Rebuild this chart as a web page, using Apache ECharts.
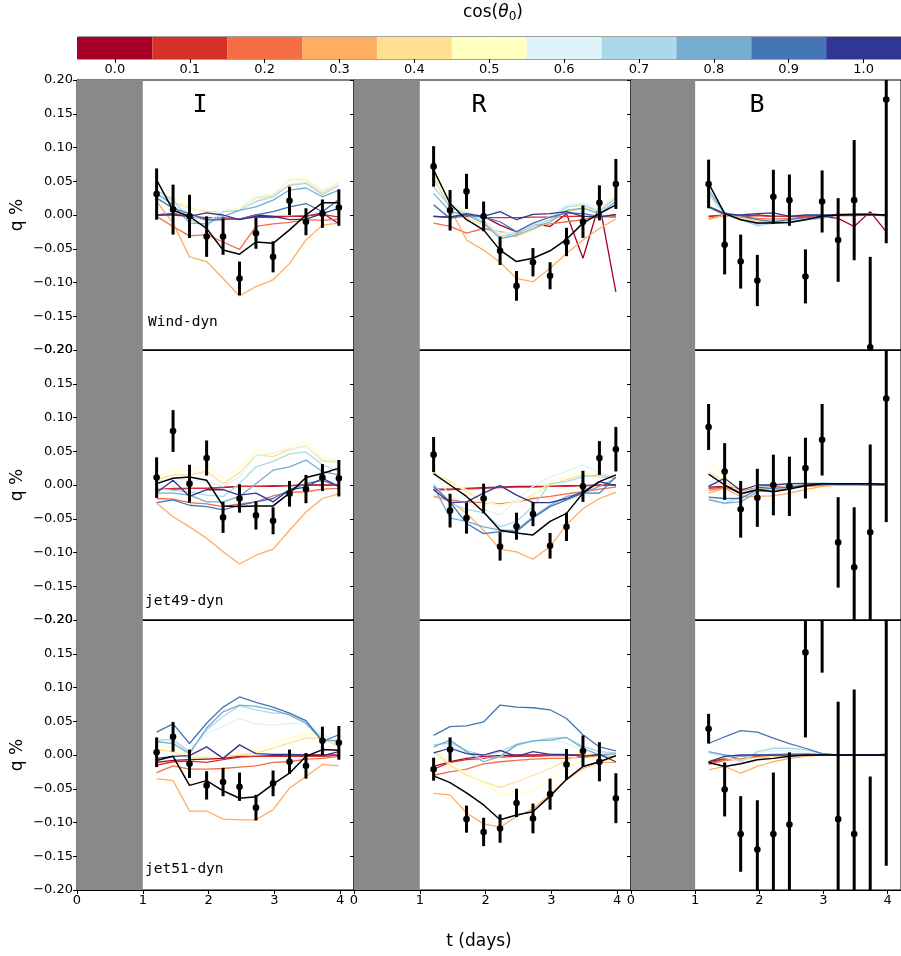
<!DOCTYPE html>
<html><head><meta charset="utf-8">
<script src="https://cdn.jsdelivr.net/npm/echarts@6/dist/echarts.min.js"></script>
<style>html,body{margin:0;padding:0;background:#fff;}#c{width:901px;height:956px;}</style>
</head><body><div id="c"></div>
<script>
// ---------------- data ----------------
const tDays = [1.21,1.46,1.71,1.97,2.22,2.47,2.72,2.98,3.23,3.48,3.73,3.98];
const cosValues = [0.0,0.1,0.2,0.3,0.4,0.5,0.6,0.7,0.8,0.9,1.0];
const cosColors = ['#a50026','#d73027','#f46d43','#fdae61','#fee090','#ffffbf','#e0f3f8','#abd9e9','#74add1','#4575b4','#313695'];
const cbTickLabels = ['0.0','0.1','0.2','0.3','0.4','0.5','0.6','0.7','0.8','0.9','1.0'];
const xTickValues = [0,1,2,3,4];
const shadeRange = [0,1];
const bandNames = ['I','R','B'];
const modelNames = ['Wind-dyn','jet49-dyn','jet51-dyn'];

// Wind-dyn, I
const windI_obs = [0.031,0.008,-0.002,-0.032,-0.032,-0.094,-0.027,-0.062,0.021,-0.010,0.002,0.011];
const windI_err = [0.038,0.037,0.032,0.030,0.027,0.025,0.023,0.023,0.021,0.020,0.021,0.027];
const windI_fit = [0.052,0.007,-0.002,-0.020,-0.052,-0.058,-0.040,-0.042,-0.022,0.000,0.018,0.018];
const windI_models = [ // cos = 0.0 ... 1.0
 [0.000,0.002,-0.002,-0.007,-0.006,-0.006,0.000,-0.002,-0.002,-0.002,0.003,-0.013],
 [0.000,0.002,-0.002,-0.004,-0.004,-0.006,-0.003,-0.004,-0.002,-0.001,0.001,-0.003],
 [-0.002,-0.017,-0.031,-0.029,-0.040,-0.051,-0.017,-0.013,-0.011,-0.007,-0.008,-0.006],
 [0.020,-0.012,-0.062,-0.069,-0.094,-0.120,-0.106,-0.096,-0.072,-0.037,-0.015,-0.012],
 [0.030,0.020,0.010,0.005,0.005,0.010,0.025,0.028,0.045,0.048,0.032,0.048],
 [0.037,0.025,0.012,0.002,0.005,0.010,0.032,0.030,0.054,0.054,0.037,0.052],
 [0.035,0.022,0.000,-0.010,0.005,0.007,0.027,0.030,0.052,0.052,0.035,0.047],
 [0.037,0.022,-0.007,-0.017,0.005,0.007,0.020,0.027,0.044,0.047,0.030,0.044],
 [0.032,0.015,-0.012,-0.013,-0.002,0.007,0.012,0.022,0.037,0.040,0.027,0.037],
 [0.025,0.010,0.002,-0.007,-0.007,-0.006,0.000,0.005,0.012,0.017,0.005,0.023],
 [0.000,0.000,-0.002,0.003,0.000,-0.007,-0.002,-0.002,-0.007,-0.006,0.002,0.010]
];
// Wind-dyn, R
const windR_obs = [0.072,0.007,0.035,-0.002,-0.053,-0.105,-0.070,-0.090,-0.040,-0.010,0.018,0.046];
const windR_err = [0.030,0.030,0.026,0.022,0.021,0.022,0.021,0.020,0.021,0.024,0.026,0.037];
const windR_fit = [0.067,0.017,-0.007,-0.022,-0.052,-0.069,-0.064,-0.053,-0.036,-0.012,0.002,0.015];
const windR_models = [
 [-0.002,-0.003,0.000,-0.002,-0.015,-0.025,-0.013,-0.017,0.002,-0.064,0.017,-0.114],
 [-0.002,-0.003,-0.002,-0.004,-0.004,-0.004,-0.003,-0.003,-0.002,-0.002,-0.002,-0.003],
 [-0.012,-0.017,-0.027,-0.020,-0.025,-0.028,-0.015,-0.013,-0.010,-0.007,-0.002,-0.002],
 [0.055,0.010,-0.037,-0.052,-0.070,-0.094,-0.099,-0.079,-0.057,-0.037,-0.020,-0.006],
 [0.062,0.015,-0.005,-0.015,-0.030,-0.032,-0.022,-0.010,0.005,0.010,0.008,0.025],
 [0.059,0.015,0.007,-0.010,-0.030,-0.027,-0.012,-0.003,0.012,0.013,0.008,0.033],
 [0.052,0.017,0.005,-0.007,-0.027,-0.025,-0.015,-0.002,0.015,0.018,0.010,0.027],
 [0.042,0.012,0.002,-0.010,-0.032,-0.027,-0.017,-0.007,0.012,0.015,0.005,0.025],
 [0.032,0.005,0.000,-0.012,-0.035,-0.030,-0.020,-0.010,0.007,0.010,0.002,0.020],
 [0.015,-0.005,0.000,-0.003,-0.010,-0.025,-0.012,-0.003,0.003,0.002,-0.002,0.000],
 [-0.002,-0.003,0.002,-0.002,0.005,-0.007,0.001,0.002,0.005,-0.002,-0.003,0.001]
];
// Wind-dyn, B
const windB_obs = [0.046,-0.044,-0.069,-0.097,0.027,0.022,-0.091,0.020,-0.037,0.022,-0.196,0.171];
const windB_err = [0.036,0.044,0.040,0.038,0.040,0.038,0.040,0.046,0.062,0.089,0.134,0.213];
const windB_fit = [0.047,0.002,-0.007,-0.012,-0.012,-0.011,-0.007,-0.002,0.000,0.001,0.001,0.000];
const windB_models = [
 [-0.002,0.000,-0.002,0.000,-0.002,-0.002,-0.002,-0.002,-0.005,-0.017,0.005,-0.025],
 [-0.002,-0.001,-0.002,-0.001,-0.002,-0.002,-0.002,-0.001,-0.001,-0.001,0.000,-0.001],
 [-0.005,0.000,-0.003,-0.005,-0.006,-0.005,-0.003,-0.002,0.000,0.000,0.000,-0.001],
 [-0.007,0.000,-0.002,-0.010,-0.012,-0.010,-0.005,-0.002,0.000,0.000,0.000,-0.001],
 [0.010,0.000,-0.005,-0.010,-0.012,-0.010,-0.006,-0.002,0.000,0.001,0.001,0.000],
 [0.025,0.001,-0.006,-0.012,-0.013,-0.010,-0.006,-0.002,0.001,0.002,0.001,0.000],
 [0.030,0.002,-0.007,-0.015,-0.013,-0.010,-0.006,-0.002,0.002,0.002,0.001,0.000],
 [0.032,0.002,-0.007,-0.016,-0.012,-0.010,-0.006,-0.002,0.002,0.002,0.001,0.000],
 [0.037,0.003,-0.006,-0.013,-0.011,-0.011,-0.007,-0.005,0.001,0.000,0.001,0.000],
 [0.013,0.003,-0.001,-0.007,-0.010,-0.007,-0.004,-0.002,0.000,0.000,0.000,0.000],
 [0.012,0.001,0.000,0.002,0.003,-0.002,0.000,0.000,0.000,0.000,0.000,0.000]
];
// jet49-dyn, I
const jet49I_obs = [0.011,0.080,0.002,0.040,-0.048,-0.020,-0.045,-0.053,-0.013,-0.006,0.011,0.010];
const jet49I_err = [0.030,0.031,0.028,0.026,0.023,0.021,0.021,0.020,0.019,0.021,0.020,0.027];
const jet49I_fit = [0.002,0.010,0.012,0.007,-0.031,-0.032,-0.031,-0.031,-0.012,0.011,0.017,0.025];
const jet49I_models = [
 [-0.006,-0.006,-0.005,-0.005,-0.004,-0.002,-0.002,-0.002,-0.001,0.000,0.000,0.000],
 [-0.007,-0.005,-0.005,-0.005,-0.003,-0.002,-0.002,-0.001,-0.001,0.000,0.000,0.000],
 [-0.020,-0.021,-0.026,-0.028,-0.032,-0.028,-0.025,-0.016,-0.011,-0.010,-0.006,-0.005],
 [-0.027,-0.047,-0.062,-0.079,-0.099,-0.117,-0.104,-0.095,-0.067,-0.040,-0.020,-0.013],
 [0.008,0.015,0.015,0.020,0.002,0.018,0.045,0.042,0.052,0.058,0.035,0.034],
 [0.012,0.022,0.022,0.030,0.010,0.025,0.053,0.046,0.058,0.063,0.040,0.038],
 [0.005,0.010,0.007,0.005,-0.002,0.012,0.044,0.047,0.054,0.058,0.037,0.035],
 [-0.005,-0.008,-0.010,-0.015,-0.017,0.002,0.027,0.035,0.046,0.049,0.030,0.020],
 [-0.012,-0.012,-0.015,-0.025,-0.025,-0.017,0.002,0.022,0.027,0.037,0.020,0.015],
 [-0.026,-0.022,-0.030,-0.032,-0.037,-0.030,-0.025,-0.020,-0.007,0.002,0.007,-0.002],
 [-0.011,0.007,-0.017,-0.007,-0.007,-0.015,-0.012,-0.025,-0.007,-0.003,0.010,-0.002]
];
// jet49-dyn, R
const jet49R_obs = [0.045,-0.038,-0.049,-0.020,-0.091,-0.061,-0.043,-0.090,-0.062,-0.002,0.040,0.053];
const jet49R_err = [0.026,0.025,0.023,0.022,0.021,0.020,0.018,0.019,0.021,0.023,0.025,0.033];
const jet49R_fit = [0.017,0.000,-0.017,-0.040,-0.067,-0.071,-0.074,-0.054,-0.042,-0.012,0.005,0.015];
const jet49R_models = [
 [-0.006,-0.006,-0.005,-0.004,-0.003,-0.002,-0.002,-0.002,-0.001,-0.001,0.000,0.000],
 [-0.007,-0.007,-0.006,-0.005,-0.004,-0.003,-0.003,-0.002,-0.002,-0.001,-0.001,0.000],
 [-0.017,-0.022,-0.025,-0.026,-0.028,-0.025,-0.020,-0.017,-0.013,-0.010,-0.006,-0.003],
 [-0.017,-0.024,-0.042,-0.067,-0.095,-0.099,-0.110,-0.091,-0.059,-0.035,-0.020,-0.011],
 [0.020,0.005,-0.010,-0.025,-0.030,-0.025,-0.015,0.000,0.008,0.015,0.012,0.010],
 [0.023,0.002,-0.007,-0.025,-0.030,-0.025,-0.017,0.005,0.012,0.020,0.015,0.012],
 [0.020,-0.017,-0.027,-0.037,-0.044,-0.022,-0.002,0.012,0.020,0.030,0.018,0.013],
 [0.002,-0.027,-0.036,-0.041,-0.062,-0.054,-0.032,0.002,0.005,0.012,0.015,0.010],
 [-0.002,-0.049,-0.054,-0.062,-0.067,-0.067,-0.047,-0.030,-0.017,-0.012,-0.002,0.010],
 [-0.002,-0.025,-0.057,-0.072,-0.069,-0.069,-0.049,-0.032,-0.022,-0.012,-0.012,0.012],
 [-0.007,-0.026,-0.025,-0.012,-0.001,-0.015,-0.026,-0.026,-0.020,-0.010,0.005,-0.001]
];
// jet49-dyn, B
const jet49B_obs = [0.086,0.020,-0.036,-0.019,0.000,-0.002,0.025,0.067,-0.085,-0.122,-0.070,0.128];
const jet49B_err = [0.034,0.042,0.042,0.043,0.045,0.044,0.045,0.053,0.067,0.089,0.130,0.183];
const jet49B_fit = [0.016,0.000,-0.013,-0.007,-0.010,-0.006,-0.001,0.002,0.002,0.002,0.002,0.001];
const jet49B_models = [
 [-0.003,-0.002,-0.006,-0.003,-0.002,-0.001,0.000,0.000,0.000,0.000,0.000,0.000],
 [-0.005,-0.003,-0.008,-0.004,-0.003,-0.002,-0.001,0.000,0.000,0.000,0.000,0.000],
 [-0.008,-0.004,-0.010,-0.006,-0.004,-0.003,-0.002,-0.001,0.000,0.000,0.000,0.000],
 [-0.012,-0.005,-0.017,-0.017,-0.016,-0.012,-0.007,-0.002,0.000,0.000,0.000,0.000],
 [0.020,0.005,-0.010,-0.006,-0.004,-0.002,0.000,0.001,0.001,0.001,0.000,0.000],
 [0.036,0.010,-0.005,-0.002,-0.001,0.000,0.001,0.002,0.002,0.001,0.000,0.000],
 [0.005,-0.002,-0.008,-0.002,0.000,0.001,0.002,0.003,0.002,0.001,0.000,0.000],
 [-0.020,-0.028,-0.017,-0.002,0.000,0.002,0.003,0.003,0.002,0.001,0.000,0.000],
 [-0.022,-0.027,-0.025,-0.010,-0.008,-0.005,-0.001,0.001,0.001,0.001,0.000,0.000],
 [-0.018,-0.020,-0.020,-0.007,-0.005,-0.003,0.000,0.001,0.001,0.001,0.000,0.000],
 [-0.002,0.010,-0.008,0.000,0.000,0.002,0.002,0.002,0.002,0.002,0.002,0.001]
];
// jet51-dyn, I
const jet51I_obs = [0.004,0.027,-0.013,-0.045,-0.040,-0.047,-0.078,-0.042,-0.010,-0.016,0.021,0.018];
const jet51I_err = [0.022,0.022,0.021,0.021,0.021,0.021,0.019,0.019,0.018,0.019,0.021,0.025];
const jet51I_fit = [-0.008,-0.002,-0.045,-0.038,-0.053,-0.064,-0.062,-0.043,-0.027,-0.002,0.008,0.007];
const jet51I_models = [
 [-0.011,-0.008,-0.007,-0.006,-0.005,-0.002,-0.002,-0.001,0.000,0.000,0.000,0.000],
 [-0.015,-0.010,-0.009,-0.011,-0.007,-0.003,-0.002,-0.002,-0.002,-0.002,-0.002,-0.001],
 [-0.026,-0.016,-0.021,-0.021,-0.020,-0.018,-0.016,-0.011,-0.010,-0.006,-0.005,-0.002],
 [-0.035,-0.038,-0.083,-0.083,-0.095,-0.096,-0.096,-0.081,-0.049,-0.032,-0.014,-0.016],
 [0.008,0.005,-0.005,-0.003,-0.002,0.000,0.003,0.010,0.018,0.025,0.025,0.012],
 [0.015,0.010,-0.002,-0.002,-0.002,0.005,0.007,0.017,0.025,0.030,0.032,0.017],
 [0.025,0.020,0.005,0.032,0.042,0.054,0.046,0.044,0.047,0.046,0.030,0.017],
 [0.022,0.023,0.005,0.037,0.057,0.073,0.067,0.062,0.062,0.049,0.025,0.018],
 [0.020,0.017,0.002,0.040,0.064,0.074,0.072,0.067,0.059,0.047,0.021,0.022],
 [0.034,0.046,0.017,0.047,0.071,0.086,0.078,0.071,0.062,0.051,0.020,0.030],
 [-0.005,-0.002,-0.001,0.012,-0.005,0.015,0.002,0.001,0.001,0.000,-0.001,0.005]
];
// jet51-dyn, R
const jet51R_obs = [-0.021,0.008,-0.095,-0.114,-0.109,-0.071,-0.094,-0.058,-0.014,0.006,-0.010,-0.064];
const jet51R_err = [0.017,0.018,0.020,0.021,0.021,0.021,0.022,0.023,0.023,0.023,0.029,0.037];
const jet51R_fit = [-0.031,-0.041,-0.056,-0.074,-0.096,-0.089,-0.084,-0.061,-0.036,-0.017,-0.010,-0.001];
const jet51R_models = [
 [-0.017,-0.010,-0.005,-0.002,-0.001,0.000,0.000,0.000,0.000,0.000,0.000,0.000],
 [-0.021,-0.011,-0.007,-0.005,-0.003,-0.002,-0.002,-0.001,-0.001,0.000,0.000,0.000],
 [-0.030,-0.025,-0.021,-0.013,-0.010,-0.008,-0.006,-0.005,-0.005,-0.003,-0.002,-0.002],
 [-0.057,-0.059,-0.086,-0.102,-0.107,-0.091,-0.080,-0.059,-0.037,-0.020,-0.011,-0.011],
 [0.005,-0.015,-0.030,-0.040,-0.048,-0.040,-0.030,-0.020,-0.008,0.000,0.002,0.001],
 [0.012,-0.012,-0.027,-0.042,-0.058,-0.058,-0.053,-0.037,-0.020,-0.007,-0.002,-0.001],
 [0.015,0.015,0.002,-0.007,-0.003,0.013,0.020,0.023,0.017,0.007,0.002,-0.001],
 [0.015,0.018,0.007,-0.001,0.005,0.016,0.021,0.025,0.026,0.013,0.005,0.003],
 [0.012,0.022,0.005,-0.010,-0.002,0.015,0.021,0.022,0.026,0.010,0.000,0.002],
 [0.029,0.042,0.043,0.049,0.074,0.071,0.070,0.067,0.054,0.030,0.012,0.006],
 [0.003,0.010,0.002,0.000,0.007,-0.002,0.005,0.001,0.001,-0.002,0.001,-0.010]
];
// jet51-dyn, B
const jet51B_obs = [0.039,-0.051,-0.117,-0.140,-0.117,-0.103,0.152,0.270,-0.095,-0.117,-0.260,0.300];
const jet51B_err = [0.022,0.040,0.056,0.073,0.091,0.107,0.126,0.148,0.174,0.214,0.228,0.464];
const jet51B_fit = [-0.011,-0.017,-0.013,-0.007,-0.005,-0.002,0.000,0.000,0.000,0.000,0.000,0.000];
const jet51B_models = [
 [-0.010,-0.005,-0.003,-0.002,-0.001,0.000,0.000,0.000,0.000,0.000,0.000,0.001],
 [-0.012,-0.006,-0.004,-0.002,-0.001,0.000,0.000,0.000,0.000,0.000,0.000,0.001],
 [-0.014,-0.008,-0.006,-0.003,-0.002,-0.001,0.000,0.000,0.000,0.000,0.000,0.000],
 [-0.022,-0.017,-0.027,-0.017,-0.010,-0.005,-0.002,0.000,0.000,0.000,0.000,0.000],
 [-0.008,-0.004,-0.008,-0.004,-0.002,-0.001,0.000,0.000,0.000,0.000,0.000,0.000],
 [0.005,0.000,-0.004,0.000,0.001,0.001,0.001,0.000,0.000,0.000,0.000,0.000],
 [0.003,-0.002,-0.010,0.003,0.006,0.006,0.004,0.001,0.000,0.000,0.000,0.000],
 [0.004,0.000,-0.010,0.005,0.010,0.010,0.008,0.002,0.000,0.000,0.000,0.000],
 [0.005,0.000,-0.002,0.000,0.001,0.002,0.002,0.001,0.000,0.000,0.000,0.000],
 [0.017,0.027,0.036,0.034,0.025,0.017,0.010,0.002,0.000,0.000,0.000,-0.001],
 [-0.010,-0.002,0.000,0.000,0.000,0.000,0.000,0.000,0.000,0.000,0.000,0.000]
];

// ---------------- layout ----------------
const panels = [
 [ {obs:windI_obs,err:windI_err,fit:windI_fit,models:windI_models},
   {obs:windR_obs,err:windR_err,fit:windR_fit,models:windR_models},
   {obs:windB_obs,err:windB_err,fit:windB_fit,models:windB_models} ],
 [ {obs:jet49I_obs,err:jet49I_err,fit:jet49I_fit,models:jet49I_models},
   {obs:jet49R_obs,err:jet49R_err,fit:jet49R_fit,models:jet49R_models},
   {obs:jet49B_obs,err:jet49B_err,fit:jet49B_fit,models:jet49B_models} ],
 [ {obs:jet51I_obs,err:jet51I_err,fit:jet51I_fit,models:jet51I_models},
   {obs:jet51R_obs,err:jet51R_err,fit:jet51R_fit,models:jet51R_models},
   {obs:jet51B_obs,err:jet51B_err,fit:jet51B_fit,models:jet51B_models} ]
];
const colLeft = [77, 354, 631];
const rowTop = [80, 350, 620];
const PW = 277, PH = 270;
const X_MIN = 0, X_MAX = 4.21, Y_MIN = -0.2, Y_MAX = 0.2;
const FONT = 'DejaVu Sans';
const MONO = 'DejaVu Sans Mono';

function fmtY(v){ if (Math.abs(v) < 1e-9) return '0.00'; return (v < 0 ? '\u2212' : '') + Math.abs(v).toFixed(2); }

const grid = [], xAxis = [], yAxis = [], series = [];
let gi = 0;
for (let r = 0; r < 3; r++) {
  for (let c = 0; c < 3; c++) {
    const P = panels[r][c];
    grid.push({left: colLeft[c], top: rowTop[r], width: PW, height: PH, show: true, borderColor: '#000', borderWidth: 1, backgroundColor: 'transparent'});
    xAxis.push({gridIndex: gi, type: 'value', min: X_MIN, max: X_MAX, interval: 1, position: 'bottom',
      axisLine: {show: true, onZero: false, lineStyle: {color: '#000', width: 1}},
      axisTick: {show: r === 2, length: 4, customValues: xTickValues, lineStyle: {color: '#000'}},
      axisLabel: {show: r === 2, customValues: xTickValues, fontFamily: FONT, fontSize: 13, color: '#000', margin: 4,
        formatter: v => (Math.abs(v - Math.round(v)) < 1e-6 ? String(Math.round(v)) : '')},
      splitLine: {show: false}});
    yAxis.push({gridIndex: gi, type: 'value', min: Y_MIN, max: Y_MAX, interval: 0.05, position: 'left',
      axisLine: {show: true, onZero: false, lineStyle: {color: '#000', width: 1}},
      axisTick: {show: true, length: 4, lineStyle: {color: '#000'}},
      axisLabel: {show: c === 0, fontFamily: FONT, fontSize: 13, color: '#000', margin: 4, formatter: fmtY},
      splitLine: {show: false}});
    // shaded region
    series.push({type: 'custom', xAxisIndex: gi, yAxisIndex: gi, z: 1, silent: true, clip: true,
      data: [[shadeRange[0], shadeRange[1]]],
      renderItem: (params, api) => {
        const p0 = api.coord([api.value(0), Y_MAX]);
        const p1 = api.coord([api.value(1), Y_MIN]);
        return {type: 'rect', shape: {x: p0[0], y: p0[1], width: p1[0] - p0[0], height: p1[1] - p0[1]}, style: {fill: '#898989'}};
      }});
    // model curves
    for (let k = 0; k < cosValues.length; k++) {
      series.push({type: 'line', xAxisIndex: gi, yAxisIndex: gi, z: 2, silent: true, symbol: 'none', showSymbol: false,
        data: tDays.map((t, i) => [t, P.models[k][i]]),
        lineStyle: {color: cosColors[k], width: 1.3}});
    }
    // best line
    series.push({type: 'line', xAxisIndex: gi, yAxisIndex: gi, z: 3, silent: true, symbol: 'none', showSymbol: false,
      data: tDays.map((t, i) => [t, P.fit[i]]),
      lineStyle: {color: '#000', width: 1.5}});
    // observations with error bars
    series.push({type: 'custom', xAxisIndex: gi, yAxisIndex: gi, z: 4, silent: true, clip: true,
      data: tDays.map((t, i) => [t, P.obs[i], P.err[i]]),
      encode: {x: 0, y: 1},
      renderItem: (params, api) => {
        const x = api.value(0), y = api.value(1), e = api.value(2);
        const top = api.coord([x, y + e]), bot = api.coord([x, y - e]), ctr = api.coord([x, y]);
        return {type: 'group', children: [
          {type: 'line', shape: {x1: top[0], y1: top[1], x2: bot[0], y2: bot[1]}, style: {stroke: '#000', lineWidth: 3}},
          {type: 'circle', shape: {cx: ctr[0], cy: ctr[1], r: 3.3}, style: {fill: '#000'}}
        ]};
      }});
    gi++;
  }
}

// colorbar
const cbIndex = gi;
grid.push({left: 77.5, top: 37, width: 825, height: 22, show: true, borderColor: '#444', borderWidth: 1});
xAxis.push({gridIndex: cbIndex, type: 'value', min: -0.05, max: 1.05,
  axisLine: {show: false},
  axisTick: {show: true, length: 4, customValues: cosValues, lineStyle: {color: '#000'}},
  axisLabel: {show: true, customValues: cosValues, fontFamily: FONT, fontSize: 13, color: '#000', margin: 4,
    formatter: v => { const i = cosValues.findIndex(c => Math.abs(c - v) < 1e-6); return i >= 0 ? cbTickLabels[i] : ''; }},
  splitLine: {show: false}});
yAxis.push({gridIndex: cbIndex, type: 'value', min: 0, max: 1, show: false});
series.push({type: 'custom', xAxisIndex: cbIndex, yAxisIndex: cbIndex, z: 1, silent: true,
  data: cosValues.map((c, i) => [c, i]),
  renderItem: (params, api) => {
    const c = api.value(0), i = api.value(1);
    const half = (cosValues[1] - cosValues[0]) / 2;
    const p0 = api.coord([c - half, 1]), p1 = api.coord([c + half, 0]);
    return {type: 'rect', shape: {x: p0[0], y: p0[1], width: p1[0] - p0[0], height: p1[1] - p0[1]}, style: {fill: cosColors[i]}};
  }});

// text
const graphic = [];
graphic.push({type: 'text', left: 463, top: 4, style: {text: '{a|cos(}{i|θ}{s|0}{a|)}', rich: {
  a: {fontFamily: FONT, fontSize: 17, fill: '#000'},
  i: {fontFamily: FONT, fontSize: 17, fontStyle: 'italic', fill: '#000'},
  s: {fontFamily: FONT, fontSize: 12, fill: '#000', padding: [8, 0, 0, 0]}
}}});
const letterX = [200, 479, 757];
for (let c = 0; c < 3; c++) {
  graphic.push({type: 'text', x: letterX[c], y: 105, z: 10, style: {text: bandNames[c], fontFamily: MONO, fontSize: 25, fill: '#000', textAlign: 'center', textVerticalAlign: 'middle'}});
}
const nameY = [322, 601, 869];
for (let r = 0; r < 3; r++) {
  graphic.push({type: 'text', x: r === 0 ? 148 : 145, y: nameY[r], z: 10, style: {text: modelNames[r], fontFamily: MONO, fontSize: 14.5, fill: '#000', textAlign: 'left', textVerticalAlign: 'middle'}});
  graphic.push({type: 'text', x: 18, y: rowTop[r] + PH / 2, rotation: Math.PI / 2, z: 10, style: {text: 'q %', fontFamily: FONT, fontSize: 17, fill: '#000', textAlign: 'center', textVerticalAlign: 'middle'}});
}
graphic.push({type: 'text', x: 479, y: 942, style: {text: 't (days)', fontFamily: FONT, fontSize: 17, fill: '#000', textAlign: 'center', textVerticalAlign: 'middle'}});

const chart = echarts.init(document.getElementById('c'), null, {renderer: 'canvas'});
chart.setOption({animation: false, backgroundColor: '#fff', grid, xAxis, yAxis, series, graphic});
</script></body></html>
